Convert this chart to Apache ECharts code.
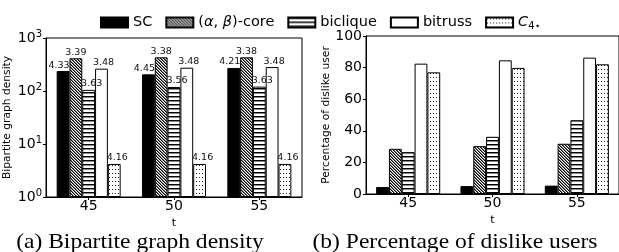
<!DOCTYPE html>
<html>
<head>
<meta charset="utf-8">
<script src="https://cdn.jsdelivr.net/npm/echarts@6/dist/echarts.min.js"></script>
<style>
  html, body { margin: 0; padding: 0; background: #fff; }
  #main { width: 619px; height: 252px; }
</style>
</head>
<body>
<div id="main"></div>
<script>
// categories (t)
var categories = ['45', '50', '55'];
var seriesNames = ['SC', '(α,β)-core', 'biclique', 'bitruss', 'C4*'];

// (a) bipartite graph density, log scale
var densitySC = [238, 206, 272];
var densityCore = [414, 432, 432];
var densityBiclique = [105, 119, 121];
var densityBitruss = [264, 275, 283];
var densityC4 = [4.2, 4.2, 4.2];
var densityTicks = [1, 10, 100, 1000];

// text written above each bar in (a)
var labelsSC = ['4.33', '4.45', '4.21'];
var labelsCore = ['3.39', '3.38', '3.38'];
var labelsBiclique = ['3.63', '3.56', '3.63'];
var labelsBitruss = ['3.48', '3.48', '3.48'];
var labelsC4 = ['4.16', '4.16', '4.16'];

// (b) percentage of dislike users
var dislikeSC = [4.4, 5.0, 5.3];
var dislikeCore = [28.6, 30.3, 31.8];
var dislikeBiclique = [26.5, 36.2, 46.7];
var dislikeBitruss = [82.5, 84.6, 86.3];
var dislikeC4 = [77.0, 79.8, 82.1];

var FONT = 'DejaVu Sans';

// hatch tiles drawn on small canvases
function tile(w, h, draw) {
  var c = document.createElement('canvas');
  c.width = w; c.height = h;
  var ctx = c.getContext('2d');
  ctx.fillStyle = '#fff';
  ctx.fillRect(0, 0, w, h);
  draw(ctx);
  return { image: c, repeat: 'repeat' };
}
var diagFill = tile(3, 3, function (ctx) {
  for (var i = 0; i < 3; i++) {
    ctx.fillStyle = '#000';
    ctx.fillRect(i, i, 1, 1);
    ctx.fillStyle = '#777';
    ctx.fillRect((i + 1) % 3, i, 1, 1);
  }
});
var hlineFill = tile(4, 4, function (ctx) {
  ctx.fillStyle = '#000';
  ctx.fillRect(0, 0, 4, 1);
  ctx.fillStyle = '#888';
  ctx.fillRect(0, 1, 4, 1);
});
var dotFill = tile(3, 4, function (ctx) {
  ctx.fillStyle = '#222';
  ctx.fillRect(1, 1, 1, 1);
});

var fills = ['#000', diagFill, hlineFill, '#fff', dotFill];
var densityData = [densitySC, densityCore, densityBiclique, densityBitruss, densityC4];
var densityLabels = [labelsSC, labelsCore, labelsBiclique, labelsBitruss, labelsC4];
var dislikeData = [dislikeSC, dislikeCore, dislikeBiclique, dislikeBitruss, dislikeC4];
// small sideways shift of the value text, as in the original figure
var labelShift = [-4, 0, 3, 2, 3];

var legendText = {
  'SC': 'SC',
  '(α,β)-core': '({i|α}, {i|β})-core',
  'biclique': 'biclique',
  'bitruss': 'bitruss',
  'C4*': '{i|C}{sub|4⋆}'
};

var series = [];
seriesNames.forEach(function (name, k) {
  series.push({
    name: name,
    type: 'bar',
    xAxisIndex: 0,
    yAxisIndex: 0,
    data: densityData[k],
    barGap: '0%',
    barCategoryGap: '25%',
    itemStyle: { color: fills[k], borderColor: '#000', borderWidth: 1 },
    label: {
      show: true,
      position: 'top',
      distance: 1,
      offset: [labelShift[k], 0],
      fontFamily: FONT,
      fontSize: 9.5,
      color: '#111',
      formatter: function (p) { return densityLabels[k][p.dataIndex]; }
    }
  });
  series.push({
    name: name,
    type: 'bar',
    xAxisIndex: 1,
    yAxisIndex: 1,
    data: dislikeData[k],
    barGap: '0%',
    barCategoryGap: '24%',
    itemStyle: { color: fills[k], borderColor: '#000', borderWidth: 1 }
  });
});

function xAxis(gridIndex) {
  return {
    type: 'category',
    gridIndex: gridIndex,
    data: categories,
    name: 't',
    nameLocation: 'middle',
    nameGap: 21,
    nameTextStyle: { fontFamily: FONT, fontSize: 11, color: '#000' },
    axisLine: { lineStyle: { color: '#000', width: 1 } },
    axisTick: { show: true, alignWithLabel: true, length: 3, lineStyle: { color: '#000' } },
    axisLabel: { fontFamily: FONT, fontSize: 14, color: '#000', margin: 2 }
  };
}

var option = {
  animation: false,
  backgroundColor: '#fff',
  legend: {
    data: seriesNames,
    left: 95,
    top: 10,
    itemWidth: 27,
    itemHeight: 10,
    itemGap: 13,
    icon: 'rect',
    formatter: function (name) { return legendText[name]; },
    textStyle: {
      fontFamily: FONT,
      fontSize: 14.5,
      color: '#000',
      rich: {
        i: { fontFamily: FONT, fontSize: 14.5, fontStyle: 'italic', color: '#000' },
        sub: { fontFamily: FONT, fontSize: 10, color: '#000', padding: [7, 0, 0, 0] }
      }
    }
  },
  grid: [
    { left: 46, top: 38, width: 256, height: 159, show: true, borderColor: '#000', borderWidth: 1 },
    { left: 366, top: 36, width: 253, height: 158, show: true, borderColor: '#000', borderWidth: 1 }
  ],
  xAxis: [xAxis(0), xAxis(1)],
  yAxis: [
    {
      type: 'log',
      gridIndex: 0,
      logBase: 10,
      min: densityTicks[0],
      max: densityTicks[densityTicks.length - 1],
      name: 'Bipartite graph density',
      nameLocation: 'middle',
      nameGap: 33,
      nameTextStyle: { fontFamily: FONT, fontSize: 10.7, color: '#000' },
      axisLine: { show: true, lineStyle: { color: '#000' } },
      axisTick: { show: true, length: 3, lineStyle: { color: '#000' } },
      splitLine: { show: false },
      axisLabel: {
        fontFamily: FONT,
        fontSize: 14,
        color: '#000',
        margin: 4,
        formatter: function (v) {
          return '10{s|' + Math.round(Math.log10(v)) + '}';
        },
        rich: {
          s: { fontFamily: FONT, fontSize: 10, color: '#000', padding: [0, 0, 8, 0] }
        }
      }
    },
    {
      type: 'value',
      gridIndex: 1,
      min: 0,
      max: 100,
      interval: 20,
      name: 'Percentage of dislike user',
      nameLocation: 'middle',
      nameGap: 33,
      nameTextStyle: { fontFamily: FONT, fontSize: 10.7, color: '#000' },
      axisLine: { show: true, lineStyle: { color: '#000' } },
      axisTick: { show: true, length: 3, lineStyle: { color: '#000' } },
      splitLine: { show: false },
      axisLabel: { fontFamily: FONT, fontSize: 14, color: '#000', margin: 4 }
    }
  ],
  graphic: [
    {
      type: 'text', x: 140, y: 253, scaleX: 1.07,
      style: {
        text: '(a) Bipartite graph density', font: '22px "Liberation Serif"', fill: '#000',
        textAlign: 'center', textVerticalAlign: 'bottom'
      }
    },
    {
      type: 'text', x: 455, y: 253, scaleX: 1.07,
      style: {
        text: '(b) Percentage of dislike users', font: '22px "Liberation Serif"', fill: '#000',
        textAlign: 'center', textVerticalAlign: 'bottom'
      }
    }
  ],
  series: series
};

var myChart = echarts.init(document.getElementById('main'));
myChart.setOption(option);
</script>
</body>
</html>
